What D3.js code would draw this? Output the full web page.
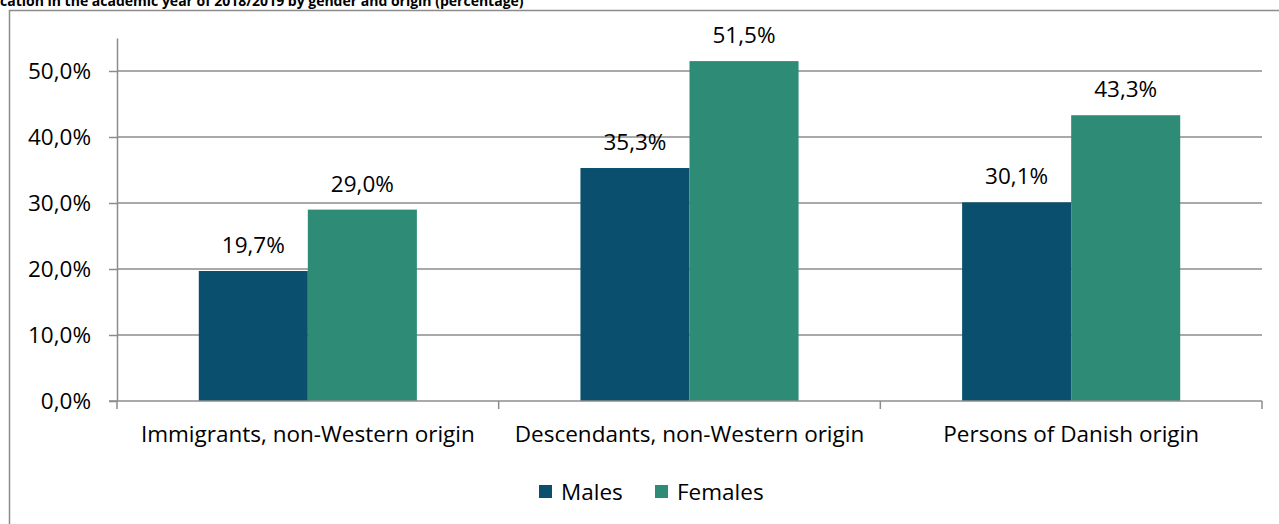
<!DOCTYPE html>
<html>
<head>
<meta charset="utf-8">
<script src="https://cdn.jsdelivr.net/npm/d3@7"></script>
<style>
  body { margin: 0; background: #fff; }
  svg { display: block; font-family: "Open Sans", sans-serif; }
</style>
</head>
<body>
<div id="chart"></div>
<script>
// Grouped bars: share by gender and origin (percentage)

// Data
const categories = ["Immigrants, non-Western origin", "Descendants, non-Western origin", "Persons of Danish origin"];
const series = ["Males", "Females"];
const males = [19.7, 35.3, 30.1];
const females = [29.0, 51.5, 43.3];
const yTicks = [0, 10, 20, 30, 40, 50];

// Colors
const colors = ["#0a506e", "#2e8b75"];
const colorAxis = "#8c8c8c";

const width = 1279, height = 524;
const marginLeft = 117, marginRight = 17, marginTop = 38, bottomY = 401;
const fontSize = 22.5;

const values = [males, females];
const fmt = v => d3.format(".1f")(v).replace(".", ",") + "%";

const svg = d3.select("#chart")
  .append("svg")
  .attr("width", width)
  .attr("height", height);

// Title (cut off at top, as in the source)
svg.append("text")
  .attr("x", 0)
  .attr("y", 6)
  .attr("font-size", 14)
  .attr("font-weight", "bold")
  .attr("fill", "#000")
  .text("cation in the academic year of 2018/2019 by gender and origin (percentage)");

// Chart frame
svg.append("rect")
  .attr("x", 9.5)
  .attr("y", 10.5)
  .attr("width", width + 20)
  .attr("height", height + 20)
  .attr("fill", "none")
  .attr("stroke", colorAxis)
  .attr("stroke-width", 1.5);

const x0 = d3.scaleBand()
  .domain(categories)
  .range([marginLeft, width - marginRight])
  .paddingInner(0)
  .paddingOuter(0);

// gap width 150% -> bars 2/3.5 of the band
const barW = x0.bandwidth() / 3.5;
const x1 = d3.scaleBand()
  .domain(series)
  .range([x0.bandwidth() * 0.75 / 3.5, x0.bandwidth() * 0.75 / 3.5 + 2 * barW]);

const y = d3.scaleLinear()
  .domain([0, 55])
  .range([bottomY, marginTop]);

// Grid
svg.append("g")
  .attr("stroke", colorAxis)
  .attr("stroke-width", 1.5)
  .selectAll("line")
  .data(yTicks.slice(1))
  .join("line")
    .attr("x1", marginLeft)
    .attr("x2", width - marginRight)
    .attr("y1", d => y(d))
    .attr("y2", d => y(d));

// Y axis
svg.append("g")
  .attr("transform", `translate(${marginLeft},0)`)
  .call(d3.axisLeft(y).tickValues(yTicks).tickFormat(fmt).tickSizeInner(8).tickSizeOuter(0).tickPadding(18))
  .call(g => g.select(".domain").attr("stroke", colorAxis).attr("stroke-width", 1.5))
  .call(g => g.selectAll(".tick line").attr("stroke", colorAxis).attr("stroke-width", 1.5))
  .call(g => g.selectAll(".tick text").attr("font-size", fontSize).attr("fill", "#000").attr("font-family", "Open Sans"));

// Bars
const groups = svg.append("g")
  .selectAll("g")
  .data(categories)
  .join("g")
    .attr("transform", d => `translate(${x0(d)},0)`);

groups.selectAll("rect")
  .data((d, i) => series.map((s, j) => ({ s, j, v: values[j][i] })))
  .join("rect")
    .attr("x", d => x1(d.s))
    .attr("y", d => y(d.v))
    .attr("width", x1.bandwidth())
    .attr("height", d => y(0) - y(d.v))
    .attr("fill", d => colors[d.j]);

groups.selectAll("text")
  .data((d, i) => series.map((s, j) => ({ s, j, v: values[j][i] })))
  .join("text")
    .attr("x", d => x1(d.s) + x1.bandwidth() / 2)
    .attr("y", d => y(d.v) - 18)
    .attr("text-anchor", "middle")
    .attr("font-size", fontSize)
    .attr("fill", "#000")
    .text(d => fmt(d.v));

// X axis
svg.append("g")
  .attr("transform", `translate(0,${bottomY})`)
  .call(d3.axisBottom(x0).tickSize(0).tickPadding(25))
  .call(g => g.select(".domain").remove())
  .call(g => g.selectAll(".tick text").attr("font-size", fontSize).attr("fill", "#000").attr("font-family", "Open Sans"));

svg.append("line")
  .attr("x1", marginLeft - 8)
  .attr("x2", width - marginRight)
  .attr("y1", bottomY)
  .attr("y2", bottomY)
  .attr("stroke", colorAxis)
  .attr("stroke-width", 1.5);

svg.append("g")
  .attr("stroke", colorAxis)
  .attr("stroke-width", 1.5)
  .selectAll("line")
  .data(categories.map(c => x0(c)).concat([width - marginRight]))
  .join("line")
    .attr("x1", d => d)
    .attr("x2", d => d)
    .attr("y1", bottomY)
    .attr("y2", bottomY + 8);

// Legend
const legend = svg.append("g")
  .attr("transform", "translate(539,492)");
const legendX = [0, 116];
series.forEach((s, j) => {
  legend.append("rect")
    .attr("x", legendX[j])
    .attr("y", -7)
    .attr("width", 13)
    .attr("height", 13)
    .attr("fill", colors[j]);
  legend.append("text")
    .attr("x", legendX[j] + 22)
    .attr("y", 0)
    .attr("dy", "0.35em")
    .attr("font-size", fontSize)
    .attr("fill", "#000")
    .text(s);
});
</script>
</body>
</html>
